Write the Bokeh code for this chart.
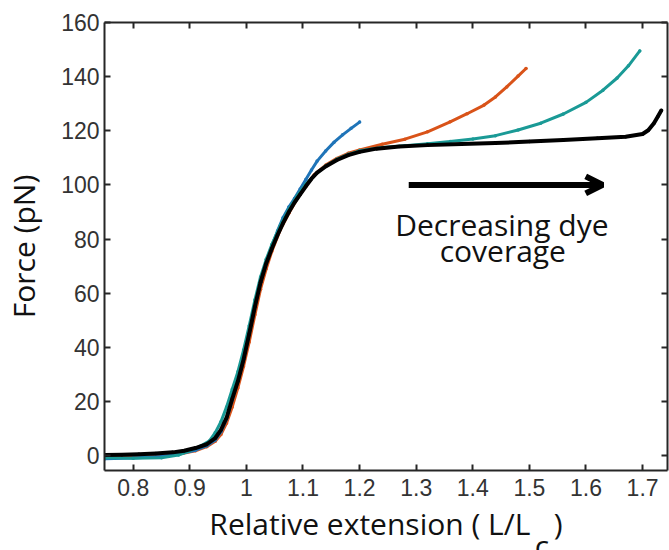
from bokeh.plotting import figure
from bokeh.models import Range1d, LinearAxis, FixedTicker, Label, Arrow, OpenHead
from bokeh.embed import file_html
from bokeh.resources import INLINE

# ---- data ----
x_ticks = [0.8, 0.9, 1.0, 1.1, 1.2, 1.3, 1.4, 1.5, 1.6, 1.7]
x_tick_labels = ["0.8", "0.9", "1", "1.1", "1.2", "1.3", "1.4", "1.5", "1.6", "1.7"]
y_ticks = [0, 20, 40, 60, 80, 100, 120, 140, 160]

blue_x = [0.75, 0.8, 0.85, 0.88, 0.91, 0.93, 0.945, 0.955, 0.965, 0.975, 0.985, 0.995,
          1.005, 1.015, 1.025, 1.035, 1.045, 1.055, 1.065, 1.075, 1.085, 1.095, 1.105,
          1.115, 1.125, 1.14, 1.155, 1.17, 1.185, 1.2]
blue_y = [-1.2, -0.9, -0.3, 0.6, 2.0, 3.6, 5.8, 8.8, 13.5, 20.5, 27.5, 35.5,
          45, 55, 64, 71.5, 77.5, 83, 88, 91.8, 95, 98.5, 102,
          105.5, 108.8, 112.5, 115.8, 118.5, 120.9, 123.2]

orange_x = [0.75, 0.8, 0.85, 0.88, 0.91, 0.93, 0.945, 0.955, 0.965, 0.975, 0.985, 0.995,
            1.005, 1.015, 1.025, 1.035, 1.045, 1.06, 1.075, 1.09, 1.105, 1.12, 1.14, 1.16,
            1.18, 1.2, 1.24, 1.28, 1.32, 1.36, 1.39, 1.42, 1.44, 1.46, 1.48, 1.494]
orange_y = [-0.8, -0.6, -0.2, 0.5, 1.8, 3.3, 5.3, 7.8, 12, 18, 25, 33,
            42, 52, 61.5, 69, 75.5, 83.5, 89.5, 95, 99.5, 103.8, 107.3, 109.8,
            111.7, 112.9, 115, 116.9, 119.6, 123.3, 126.3, 129.5, 132.5, 136.2, 140.2, 143]

teal_x = [0.75, 0.8, 0.85, 0.88, 0.9, 0.92, 0.935, 0.945, 0.955, 0.965, 0.975, 0.985,
          0.995, 1.005, 1.015, 1.025, 1.035, 1.045, 1.06, 1.075, 1.09, 1.105, 1.12,
          1.14, 1.16, 1.18, 1.2, 1.24, 1.28, 1.32, 1.36, 1.4, 1.44, 1.48, 1.52, 1.56,
          1.6, 1.63, 1.655, 1.675, 1.695]
teal_y = [-0.8, -1.0, -0.8, 0.2, 1.8, 3.6, 5.5, 8.5, 12.5, 18, 24.5, 31,
          39, 48, 57.5, 66, 72.5, 78, 85, 91, 96, 100.3, 103.5,
          107, 109.5, 111.3, 112.6, 113.8, 114.5, 115.2, 116, 117, 118.2, 120.3, 122.8, 126.2,
          130.5, 135, 139.5, 144, 149.5]

black_x = [0.75, 0.78, 0.81, 0.84, 0.87, 0.89, 0.91, 0.93, 0.945, 0.955, 0.965, 0.975,
           0.985, 0.995, 1.005, 1.015, 1.025, 1.035, 1.045, 1.055, 1.065, 1.075, 1.085,
           1.095, 1.105, 1.115, 1.125, 1.14, 1.16, 1.18, 1.2, 1.23, 1.27, 1.32, 1.38,
           1.44, 1.5, 1.56, 1.62, 1.67, 1.7, 1.71, 1.72, 1.727, 1.733]
black_y = [0.2, 0.3, 0.5, 0.8, 1.2, 1.8, 2.8, 4.2, 6.5, 9.5, 14, 21,
           27.5, 35.5, 45, 55, 64, 71, 76.5, 81.5, 86, 90, 93.5,
           96.5, 99.5, 102.3, 104.5, 106.8, 109.2, 111, 112.2, 113.4, 114.2, 114.7, 115.1,
           115.5, 116, 116.6, 117.2, 117.8, 118.8, 120.2, 122.8, 125.3, 127.5]

x_title_main = "Relative extension ( L/L"
x_title_sub = "c"

series = [
    (orange_x, orange_y, "#D95319", 3.0),
    (blue_x, blue_y, "#1F74B8", 3.0),
    (teal_x, teal_y, "#1A9A96", 3.0),
    (black_x, black_y, "#000000", 4.0),
]

AX = "#262626"
TXT = "#333333"
SANS = "Open Sans"
NB = "\u00a0"

p = figure(frame_width=563, frame_height=448,
           x_range=Range1d(0.7493, 1.744), y_range=Range1d(-5.5, 160),
           output_backend="svg", toolbar_location=None,
           min_border_left=104, min_border_right=2, min_border_top=22, min_border_bottom=80,
           x_axis_location=None, y_axis_location=None)
p.grid.visible = False
p.outline_line_color = None
p.background_fill_color = "white"
p.border_fill_color = "white"


def style_axis(ax, ticks, show_labels):
    ax.ticker = FixedTicker(ticks=ticks)
    ax.axis_line_color = AX
    ax.axis_line_width = 2
    ax.major_tick_line_color = AX
    ax.major_tick_line_width = 2
    ax.major_tick_in = 6
    ax.major_tick_out = 0
    ax.minor_tick_line_color = None
    if show_labels:
        ax.major_label_text_font = "Liberation Sans"
        ax.major_label_text_font_size = "23px"
        ax.major_label_text_color = TXT
    else:
        ax.major_label_text_font_size = "0px"
        ax.major_label_standoff = 0


xb = LinearAxis()
style_axis(xb, x_ticks, True)
xb.major_label_overrides = {t: l for t, l in zip(x_ticks, x_tick_labels)}
xb.major_label_standoff = 8
# two-line title: the second line carries the subscript "c"
xb.axis_label = x_title_main + NB * 3 + ")" + "\n" + NB * 40 + x_title_sub
xb.axis_label_text_font = SANS
xb.axis_label_text_font_size = "30px"
xb.axis_label_text_font_style = "normal"
xb.axis_label_text_color = "#111111"
xb.axis_label_text_align = "center"
xb.axis_label_text_line_height = 0.55
xb.axis_label_standoff = 4
p.add_layout(xb, "below")

yl = LinearAxis()
style_axis(yl, y_ticks, True)
yl.major_label_standoff = 5
yl.axis_label = "Force (pN)"
yl.axis_label_text_font = SANS
yl.axis_label_text_font_size = "30px"
yl.axis_label_text_font_style = "normal"
yl.axis_label_text_color = "#111111"
yl.axis_label_standoff = 14
p.add_layout(yl, "left")

xt = LinearAxis()
style_axis(xt, x_ticks, False)
p.add_layout(xt, "above")

yr = LinearAxis()
style_axis(yr, y_ticks, False)
p.add_layout(yr, "right")

for xs, ys, col, lw in series:
    p.line(xs, ys, line_color=col, line_width=lw, line_join="round", line_cap="round")
    p.scatter(xs, ys, size=3.5, fill_color=col, line_color=None)

# annotation
p.add_layout(Arrow(x_start=1.2868, y_start=100, x_end=1.6295, y_end=100,
                   line_width=6, line_color="black",
                   end=OpenHead(size=17, line_width=6, line_color="black")))
p.add_layout(Label(x=1.4514, y=85.4, text="Decreasing dye", text_align="center",
                   text_baseline="alphabetic", text_font=SANS, text_font_size="30px",
                   text_color="#111111"))
p.add_layout(Label(x=1.453, y=75.7, text="coverage", text_align="center",
                   text_baseline="alphabetic", text_font=SANS, text_font_size="30px",
                   text_color="#111111"))

open("out.html", "w").write(file_html(p, INLINE))
